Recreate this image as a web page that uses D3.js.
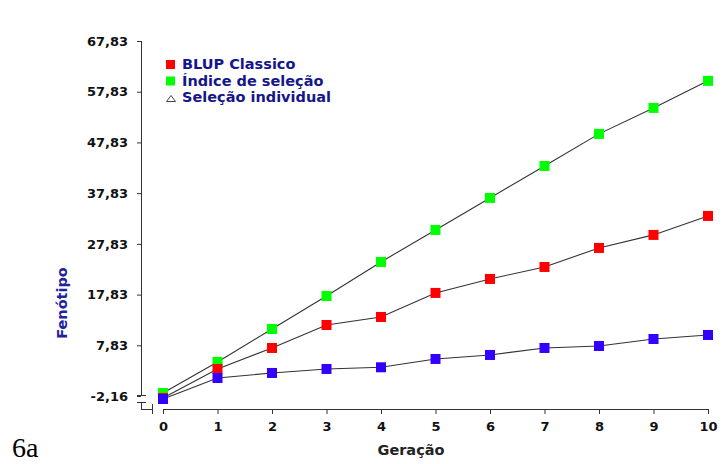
<!DOCTYPE html>
<html>
<head>
<meta charset="utf-8">
<script src="https://cdn.jsdelivr.net/npm/d3@7"></script>
<style>
  html, body { margin: 0; padding: 0; background: #fff; }
  svg { display: block; }
</style>
</head>
<body>
<div id="chart"></div>
<script>
// Generations 0..10 and mean phenotype per selection method
const generations = [0, 1, 2, 3, 4, 5, 6, 7, 8, 9, 10];
const blupClassico = [-2.55, 3.17, 7.31, 11.84, 13.42, 18.16, 20.92, 23.28, 27.03, 29.6, 33.34];
const indiceSelecao = [-1.57, 4.55, 11.05, 17.56, 24.27, 30.58, 36.89, 43.2, 49.52, 54.64, 59.97];
const selecaoIndividual = [-2.75, 1.39, 2.38, 3.17, 3.5, 5.14, 5.93, 7.31, 7.7, 9.08, 9.87];

const yTicks = [-2.16, 7.83, 17.83, 27.83, 37.83, 47.83, 57.83, 67.83];
const yTickLabels = ["-2,16", "7,83", "17,83", "27,83", "37,83", "47,83", "57,83", "67,83"];
const xTicks = [0, 1, 2, 3, 4, 5, 6, 7, 8, 9, 10];

const seriesNames = ["BLUP Classico", "Índice de seleção", "Seleção individual"];

const W = 724, H = 464;
const svg = d3.select("#chart").append("svg")
  .attr("width", W).attr("height", H);

const axisColor = "#333";
const tickFont = "'DejaVu Sans', Verdana, sans-serif";

const yAxisX = 141, xAxisY = 409;
const x = d3.scaleLinear().domain([0, 10]).range([163, 708]);
const y = d3.scaleLinear().domain([-2.16, 67.83]).range([396, 41]);

// Y axis (left ticks, broken near the bottom)
const yAxis = d3.axisLeft(y)
  .tickValues(yTicks)
  .tickSize(4)
  .tickPadding(9)
  .tickFormat((d, i) => yTickLabels[i]);
const gy = svg.append("g").attr("transform", `translate(${yAxisX},0)`).call(yAxis);
gy.select(".domain").remove();
gy.selectAll(".tick line").attr("stroke", axisColor);
gy.selectAll(".tick text")
  .attr("fill", "#111")
  .style("font-family", tickFont)
  .style("font-weight", "bold")
  .style("font-size", "13px");

// X axis (ticks pointing down)
const xAxis = d3.axisBottom(x)
  .tickValues(xTicks)
  .tickSize(5)
  .tickPadding(8)
  .tickFormat(d3.format("d"));
const gx = svg.append("g").attr("transform", `translate(0,${xAxisY})`).call(xAxis);
gx.select(".domain").remove();
gx.selectAll(".tick line").attr("stroke", axisColor);
gx.selectAll(".tick text")
  .attr("fill", "#111")
  .style("font-family", tickFont)
  .style("font-weight", "bold")
  .style("font-size", "13px");

// Axis lines with the break marks at the origin
const yBottom = y(-2.16) - 1;
const axisPath = d3.path();
axisPath.moveTo(yAxisX, y(67.83));
axisPath.lineTo(yAxisX, yBottom);
axisPath.moveTo(yAxisX - 4, yBottom);
axisPath.lineTo(yAxisX + 5, yBottom);
axisPath.moveTo(yAxisX - 4, yBottom + 7);
axisPath.lineTo(yAxisX + 5, yBottom + 7);
axisPath.moveTo(yAxisX, yBottom + 7);
axisPath.lineTo(yAxisX, xAxisY);
axisPath.lineTo(yAxisX + 11, xAxisY);
axisPath.moveTo(yAxisX + 11, xAxisY - 5);
axisPath.lineTo(yAxisX + 11, xAxisY + 5);
axisPath.moveTo(x(0), xAxisY);
axisPath.lineTo(x(10), xAxisY);
svg.append("path")
  .attr("d", axisPath.toString())
  .attr("fill", "none")
  .attr("stroke", axisColor)
  .attr("stroke-width", 1)
  .attr("shape-rendering", "crispEdges");

// Series lines and markers
const series = [
  { values: indiceSelecao, color: "#00ff00" },
  { values: blupClassico, color: "#ff0000" },
  { values: selecaoIndividual, color: "#3300ff" }
];

const line = d3.line()
  .x((d, i) => x(generations[i]))
  .y(d => y(d));

series.forEach(s => {
  svg.append("path")
    .datum(s.values)
    .attr("d", line)
    .attr("fill", "none")
    .attr("stroke", "#333")
    .attr("stroke-width", 1.1);
});

const ms = 10;
series.forEach(s => {
  svg.append("g").selectAll("rect")
    .data(s.values)
    .join("rect")
    .attr("x", (d, i) => x(generations[i]) - ms / 2)
    .attr("y", d => y(d) - ms / 2)
    .attr("width", ms)
    .attr("height", ms)
    .attr("fill", s.color);
});

// Legend
const legendFont = "'DejaVu Sans', Verdana, sans-serif";
const legendColor = "#16168a";
const lg = svg.append("g");
const rowY = [69, 85.5, 102];
lg.append("rect").attr("x", 166).attr("y", rowY[0] - 9).attr("width", 9).attr("height", 9).attr("fill", "#ff0000");
lg.append("rect").attr("x", 166).attr("y", rowY[1] - 9).attr("width", 9).attr("height", 9).attr("fill", "#00ff00");
lg.append("path")
  .attr("d", `M166.5,${rowY[2] - 0.5} L175.5,${rowY[2] - 0.5} L171,${rowY[2] - 6.5} Z`)
  .attr("fill", "#fff")
  .attr("stroke", "#444")
  .attr("stroke-width", 1);
seriesNames.forEach((name, i) => {
  lg.append("text")
    .attr("x", 182)
    .attr("y", rowY[i])
    .attr("fill", legendColor)
    .style("font-family", legendFont)
    .style("font-weight", "bold")
    .style("font-size", "14.5px")
    .text(name);
});

// Axis titles
svg.append("text")
  .attr("x", 411)
  .attr("y", 455)
  .attr("text-anchor", "middle")
  .attr("fill", "#222")
  .style("font-family", legendFont)
  .style("font-weight", "bold")
  .style("font-size", "14.5px")
  .text("Geração");

svg.append("text")
  .attr("transform", "translate(67,303) rotate(-90)")
  .attr("text-anchor", "middle")
  .attr("fill", "#2222a0")
  .style("font-family", legendFont)
  .style("font-weight", "bold")
  .style("font-size", "14.5px")
  .text("Fenótipo");

// Panel label
svg.append("text")
  .attr("x", 12)
  .attr("y", 457)
  .attr("fill", "#000")
  .style("font-family", "'Liberation Serif', 'Times New Roman', serif")
  .style("font-size", "28px")
  .text("6a");
</script>
</body>
</html>
